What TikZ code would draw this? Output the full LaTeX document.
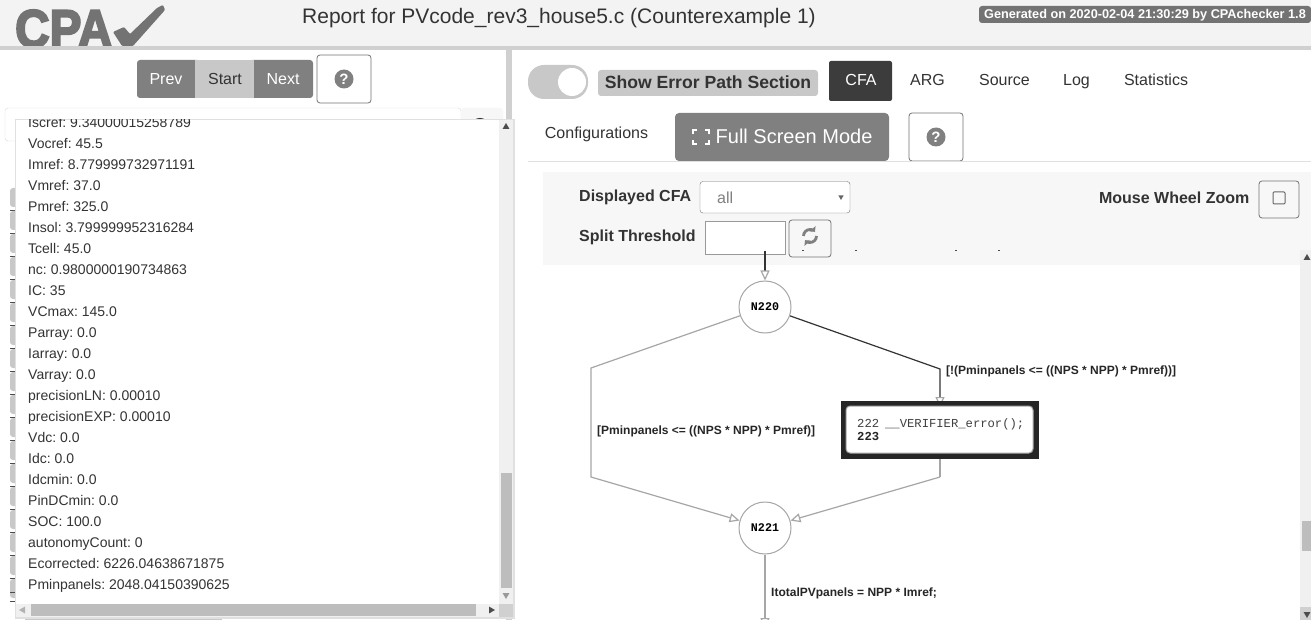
\documentclass[tikz,border=0pt]{standalone}
\usepackage{fontspec}
\setmainfont{Liberation Sans}
\newfontfamily\codefont{Liberation Mono}
\newfontfamily\logofont[FakeBold=4]{Liberation Sans Bold}
\usetikzlibrary{arrows.meta,positioning,shapes.geometric}
\pgfdeclarelayer{edges}
\pgfdeclarelayer{graph}
\pgfsetlayers{main,edges,graph}
\frenchspacing
\definecolor{headbg}{HTML}{F3F3F3}
\definecolor{barbg}{HTML}{D0D0D0}
\definecolor{btndark}{HTML}{808080}
\definecolor{btnlight}{HTML}{C8C8C8}
\definecolor{tabdark}{HTML}{3C3C3C}
\definecolor{panelbg}{HTML}{F7F7F7}
\definecolor{txtgray}{HTML}{333333}
\definecolor{edgegray}{HTML}{A6A6A6}
\definecolor{scrollbg}{HTML}{F0F0F0}
\definecolor{scrollth}{HTML}{BDBDBD}
\newcommand{\fsz}[1]{\fontsize{#1}{#1}\selectfont}
\tikzset{
  label/.style={inner sep=0pt,text height=12pt,text depth=0pt,text=txtgray,font=\fsz{16}},
  boldlabel/.style={label,font=\fsz{16}\bfseries},
  rowlabel/.style={inner sep=0pt,text height=11pt,text depth=0pt,anchor=west,text=txtgray,font=\fsz{14}},
  edgelabel/.style={inner sep=0pt,text height=9pt,text depth=0pt,anchor=west,text=black!85,font=\fsz{12}\bfseries},
  cfanode/.style={circle,draw=edgegray,fill=white,line width=1pt,minimum size=52pt,inner sep=0pt,font=\fsz{11.7}\codefont\bfseries},
  errbox/.style={draw=black!85,fill=black!85,line width=0pt,minimum width=197pt,minimum height=57pt,inner sep=0pt},
  edgeline/.style={edgegray,line width=1.2pt,-{Triangle[open,length=10pt,width=9pt]}},
  pathline/.style={black!80,line width=1.2pt,-{Triangle[open,length=10pt,width=9pt,edgegray]}},
  helpbtn/.style={draw=black!55,fill=white,rounded corners=3pt,line width=.8pt},
  helpicon/.style={circle,fill=btndark,text=white,inner sep=0pt,minimum size=19pt,font=\fsz{15}\bfseries},
  scrolltip/.style={regular polygon,regular polygon sides=3,fill=black!70,inner sep=0pt,minimum size=8pt}
}
\begin{document}
\begin{tikzpicture}[x=1pt,y=-1pt]
\useasboundingbox (0,0) rectangle (1311,620);
\fill[white] (0,0) rectangle (1311,620);

% header
\fill[headbg] (0,0) rectangle (1311,46);
\fill[barbg] (0,46) rectangle (1311,50);
\fill[barbg] (506,50) rectangle (512,620);
\begin{scope}
  \clip (0,0) rectangle (1311,46);
  \node[inner sep=0pt,anchor=base west,text=black!55,font=\fsz{53}\logofont,xscale=.9] (logo) at (15,47) {CPA};
  \fill[black!55,rounded corners=1pt] (113,32) -- (124,27) -- (130,34) -- (157,8) -- (163,5) -- (165,10) -- (133,46) -- (122,46) -- cycle;
\end{scope}
\node[label,font=\fsz{21}] (title) at (559,18) {Report for PVcode\_rev3\_house5.c (Counterexample 1)};
\fill[black!55,rounded corners=3pt] (979,6) rectangle (1311,23);
\node[inner sep=0pt,text height=9pt,text depth=0pt,text=white,font=\fsz{12.7}\bfseries,anchor=west] (generated) at (984,14) {Generated on 2020-02-04 21:30:29 by CPAchecker 1.8};

% left buttons
\fill[btndark,rounded corners=3pt] (137,60) rectangle (200,98);
\fill[btndark,rounded corners=3pt] (250,60) rectangle (313,98);
\fill[btnlight] (195,60) rectangle (254,98);
\node[label,text=white] (prev) at (166,78.5) {Prev};
\node[label] (start) at (225,78.5) {Start};
\node[label,text=white] (next) at (283,78.5) {Next};
\draw[helpbtn] (317,55) rectangle (371,103);
\node[helpicon] (helpa) at (344,79) {?};

% search box behind the popup
\draw[black!15,rounded corners=3pt] (5,108) rectangle (461,141);
\fill[panelbg,rounded corners=3pt] (461,108) rectangle (503,141);
\fill[black!80] (480,120) ellipse (5 and 2);
\foreach \ty in {188,211,234,257,280,303,326,349,372,395,418,441,464,487,510,533,556,579}
  {\fill[btnlight,rounded corners=3pt] (10,\ty) rectangle (18,\ty+19);
   \draw[black!70] (10,\ty+22) -- (18,\ty+22);}
\draw[black!70,line width=1pt] (10,592) -- (18,592);
\fill[btnlight] (25,617) rectangle (222,620);
\draw[black!40] (18,618) -- (500,618);

% popup with the values
\fill[black!12] (15,119) rectangle (515,619);
\fill[white] (16,120) rectangle (513,617);
\begin{scope}
  \clip (16,120) rectangle (499,604);
  \foreach \rowtxt [count=\i from 0] in {Iscref: 9.34000015258789,Vocref: 45.5,Imref: 8.779999732971191,Vmref: 37.0,Pmref: 325.0,Insol: 3.799999952316284,Tcell: 45.0,nc: 0.9800000190734863,IC: 35,VCmax: 145.0,Parray: 0.0,Iarray: 0.0,Varray: 0.0,precisionLN: 0.00010,precisionEXP: 0.00010,Vdc: 0.0,Idc: 0.0,Idcmin: 0.0,PinDCmin: 0.0,SOC: 100.0,autonomyCount: 0,Ecorrected: 6226.04638671875,Pminpanels: 2048.04150390625}
    \node[rowlabel] (row\i) at (28,{122+21*\i}) {\rowtxt};
\end{scope}
\fill[scrollbg] (499,120) rectangle (513,604);
\fill[scrollth] (501,473) rectangle (512,588);
\fill[scrollbg] (16,604) rectangle (499,617);
\fill[scrollth] (31,604) rectangle (476,616);
\fill[barbg] (499,604) rectangle (513,617);
\node[scrolltip] (upa) at (506,127) {};
\node[scrolltip,rotate=180,fill=black!40] (downa) at (506,595) {};
\node[scrolltip,rotate=90,fill=black!30] (lefta) at (23,610) {};
\node[scrolltip,rotate=-90] (righta) at (491,610) {};

% toggle and tabs
\fill[btnlight,rounded corners=16pt] (528,65) rectangle (588,99);
\fill[white] (572,82) circle (14);
\fill[btnlight,rounded corners=3pt] (598,70) rectangle (818,96);
\node[boldlabel,font=\fsz{17.6}\bfseries] (showerr) at (708,82.5) {Show Error Path Section};
\fill[tabdark,rounded corners=2pt] (829,61) rectangle (892,101);
\node[label,text=white] (cfa) at (861,80) {CFA};
\node[label] (arg) at (927.5,80) {ARG};
\node[label] (source) at (1004.5,80) {Source};
\node[label] (log) at (1076.5,80) {Log};
\node[label] (stats) at (1156,80) {Statistics};
\node[label] (config) at (596.5,133) {Configurations};
\fill[btndark,rounded corners=4pt] (675,113) rectangle (889,161);
\draw[white,line width=2.6pt] (697,130) -- (693,130) -- (693,134);
\draw[white,line width=2.6pt] (705,130) -- (709,130) -- (709,134);
\draw[white,line width=2.6pt] (693,140) -- (693,144) -- (697,144);
\draw[white,line width=2.6pt] (709,140) -- (709,144) -- (705,144);
\node[inner sep=0pt,text height=14pt,text depth=0pt,text=white,font=\fsz{20},anchor=west] (fullscreen) at (715.5,137) {Full Screen Mode};
\draw[helpbtn] (909,113) rectangle (963,161);
\node[helpicon] (helpb) at (936,137) {?};
\draw[black!12] (528,161.5) -- (1311,161.5);

% CFA toolbar
\fill[panelbg] (543,172) rectangle (1311,265);
\node[boldlabel,anchor=west] (displayed) at (579,196) {Displayed CFA};
\draw[black!55,fill=white,rounded corners=3pt] (700,181.5) rectangle (850,213);
\node[label,text=black!50,anchor=west] (dispval) at (717,197.5) {all};
\node[regular polygon,regular polygon sides=3,rotate=180,fill=black!60,inner sep=0pt,minimum size=6pt] (dispdown) at (841,197) {};
\node[boldlabel,anchor=east] (wheel) at (1249.5,198) {Mouse Wheel Zoom};
\draw[helpbtn,fill=none] (1259,181) rectangle (1299,218);
\draw[black!60,rounded corners=1pt,line width=1pt] (1273,192) rectangle (1285,204);
\node[boldlabel,anchor=west] (split) at (579,236) {Split Threshold};
\draw[black!40,fill=white] (705.5,221) rectangle (785,254);
\draw[helpbtn,fill=none] (789,220) rectangle (831,257);
\draw[btndark,line width=2.8pt,-{Triangle[length=4pt,width=8pt]}] (803.5,236) arc[start angle=180,end angle=40,radius=6.5pt];
\draw[btndark,line width=2.8pt,-{Triangle[length=4pt,width=8pt]}] (816.5,236) arc[start angle=0,end angle=-140,radius=6.5pt];
\foreach \dx in {802,855,955,998}
  \fill[black!70] (\dx,250) rectangle (\dx+1.5,251);

% right scrollbar
\fill[scrollbg] (1300,250) rectangle (1311,620);
\fill[scrollth] (1302,521) rectangle (1311,551);
\fill[barbg] (1300,607) rectangle (1311,620);
\node[scrolltip] (upb) at (1307,258) {};
\node[scrolltip,rotate=180] (downb) at (1307,614) {};

% graph nodes
\begin{pgfonlayer}{graph}
  \node[cfanode] (n220) at (765,307) {N220};
  \node[cfanode] (n221) at (765,528) {N221};
  \node[errbox] (errbox) at (939.5,429.5) {};
  \draw[black!35,fill=white,rounded corners=4pt,line width=1pt] (846,406) rectangle (1033,453);
  \node[inner sep=0pt,anchor=west,font=\fsz{12.2}\codefont,text=black!75] (codea) at (857,424.5) {222\hspace{6pt}\_\_VERIFIER\_error();};
  \node[inner sep=0pt,anchor=west,font=\fsz{12.2}\codefont\bfseries,text=black!85] (codeb) at (857,436.5) {223};
\end{pgfonlayer}

\coordinate (start220) at (765,251);
\coordinate (leftup) at (591,368);
\coordinate (leftdown) at (591,477);
\coordinate (rightup) at (940,369);
\coordinate (rightdown) at (940,477);
\coordinate (bottom) at (765,628);

% connectors
\begin{pgfonlayer}{edges}
  \draw[pathline] (start220) -- (n220);
  \draw[edgeline] (n220) -- (leftup) -- (leftdown) -- (n221);
  \draw[pathline,shorten >=-6pt] (n220) -- (rightup) -- (errbox.north -| rightup);
  \draw[edgegray,line width=1.2pt] (errbox.south -| rightup) -- (rightdown);
  \draw[edgeline] (rightdown) -- (n221);
  \draw[edgeline] (n221) -- (bottom);
\end{pgfonlayer}
\node[edgelabel] (labtrue) at (597,430) {[Pminpanels <= ((NPS * NPP) * Pmref)]};
\node[edgelabel] (labfalse) at (946,370) {[!(Pminpanels <= ((NPS * NPP) * Pmref))]};
\node[edgelabel] (labnext) at (771,592) {ItotalPVpanels = NPP * Imref;};
\end{tikzpicture}
\end{document}
